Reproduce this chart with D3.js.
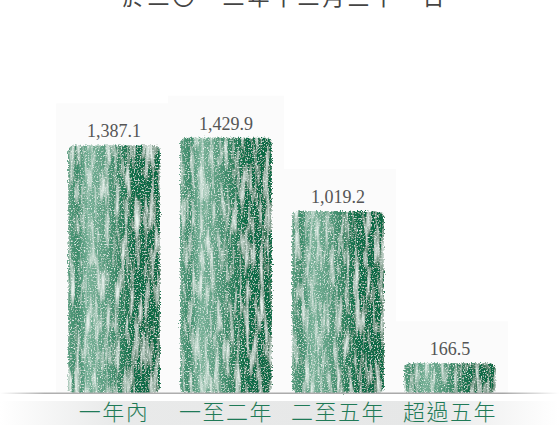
<!DOCTYPE html>
<html><head><meta charset="utf-8">
<script src="https://cdn.jsdelivr.net/npm/d3@7"></script>
<style>html,body{margin:0;padding:0;background:#fff;overflow:hidden}</style>
</head><body>
<svg id="c" width="559" height="425"></svg>
<script>
const title = "於二〇一二年十二月三十一日";
const categories = ["一年內", "一至二年", "二至五年", "超過五年"];
const values = [1387.1, 1429.9, 1019.2, 166.5];
const valueLabels = ["1,387.1", "1,429.9", "1,019.2", "166.5"];

const W = 559, H = 425;
const svg = d3.select("#c");
const defs = svg.append("defs");

// bar gradient
const g = defs.append("linearGradient").attr("id","barGrad").attr("x1","0").attr("x2","1").attr("y1","0").attr("y2","0");
[["0%","#5a9d80"],["10%","#3a8a69"],["22%","#78b198"],["40%","#5a9d80"],["58%","#2c805d"],["72%","#0e6d48"],["100%","#0a6944"]]
  .forEach(([o,c])=>g.append("stop").attr("offset",o).attr("stop-color",c));

// line gradient
const lg = defs.append("linearGradient").attr("id","lineGrad");
[["0%","#ffffff"],["8%","#b0b0b0"],["90%","#a8a8a8"],["100%","#ffffff"]].forEach(([o,c])=>lg.append("stop").attr("offset",o).attr("stop-color",c));
const bg = defs.append("linearGradient").attr("id","bandGrad");
[["0%","#ffffff"],["20%","#e9eaea"],["75%","#e6e7e7"],["100%","#ffffff"]].forEach(([o,c])=>bg.append("stop").attr("offset",o).attr("stop-color",c));

// texture filter
const f = defs.append("filter").attr("id","crayon").attr("x","-5%").attr("y","-5%").attr("width","110%").attr("height","110%");
f.append("feTurbulence").attr("type","fractalNoise").attr("baseFrequency","0.2 0.03").attr("numOctaves","3").attr("seed","4").attr("result","streak");
f.append("feTurbulence").attr("type","fractalNoise").attr("baseFrequency","0.7").attr("numOctaves","2").attr("seed","7").attr("result","grain");
f.append("feDisplacementMap").attr("in","SourceGraphic").attr("in2","grain").attr("scale","5").attr("xChannelSelector","R").attr("yChannelSelector","G").attr("result","rough");
f.append("feColorMatrix").attr("in","streak").attr("type","matrix")
  .attr("values","0 0 0 0 0.82  0 0 0 0 0.9  0 0 0 0 0.86  0 0 0 -2.6 1.35").attr("result","hl");
f.append("feComposite").attr("in","hl").attr("in2","rough").attr("operator","in").attr("result","hl2");
f.append("feColorMatrix").attr("in","grain").attr("type","matrix")
  .attr("values","0 0 0 0 0.85  0 0 0 0 0.92  0 0 0 0 0.88  0 0 0 -3.2 1.5").attr("result","gr");
f.append("feComposite").attr("in","gr").attr("in2","rough").attr("operator","in").attr("result","gr2");
const m = f.append("feMerge").attr("result","merged");
m.append("feMergeNode").attr("in","rough");
m.append("feMergeNode").attr("in","hl2");
m.append("feMergeNode").attr("in","gr2");
f.append("feGaussianBlur").attr("in","merged").attr("stdDeviation","0.5");

const x = d3.scaleBand().domain(categories).range([58, 506]).paddingInner(0.18).paddingOuter(0.09);
const y = d3.scaleLinear().domain([0, 1500]).range([393, 125.25]);

// title (mostly cut off at top, as in the source)
svg.append("text").attr("x", 285).attr("y", 5).attr("text-anchor","middle")
  .attr("font-family","'Noto Sans CJK TC'").attr("font-size",22).attr("fill","#444").attr("letter-spacing",3).text(title);

// faint panels behind bars
svg.selectAll("rect.panel").data(categories).enter().append("rect")
  .attr("x", d=>x(d)-12).attr("y", (d,i)=>y(values[i])-42).attr("width", x.bandwidth()+24)
  .attr("height", (d,i)=>393-y(values[i])+42).attr("fill","#fbfbfb");

// bars
svg.selectAll("rect.bar").data(values).enter().append("rect")
  .attr("x",(d,i)=>x(categories[i])).attr("y",d=>y(d)).attr("width",x.bandwidth())
  .attr("height",d=>y(0)-y(d)).attr("rx",6).attr("fill","url(#barGrad)").attr("filter","url(#crayon)");

// baseline line
svg.append("rect").attr("x",0).attr("y",392.5).attr("width",W).attr("height",1.5).attr("fill","url(#lineGrad)");
// bottom band
svg.append("rect").attr("x",0).attr("y",401).attr("width",W).attr("height",24).attr("fill","url(#bandGrad)");

// value labels
svg.selectAll("text.val").data(valueLabels).enter().append("text")
  .attr("x",(d,i)=>x(categories[i])+x.bandwidth()/2).attr("y",(d,i)=>y(values[i])-8)
  .attr("text-anchor","middle").attr("font-family","'Liberation Serif'").attr("font-size",18)
  .attr("fill","#555").text(d=>d);

// category labels
const xAxis = d3.axisBottom(x).tickSize(0).tickPadding(0);
const ax = svg.append("g").attr("transform","translate(0,403)").call(xAxis);
ax.select(".domain").remove();
ax.selectAll("text").attr("font-family","'Noto Sans CJK TC'").attr("font-size",22).attr("font-weight",300)
  .attr("fill","#1f7a57").attr("letter-spacing",1.5).attr("dy","0.75em");
</script>
</body></html>
